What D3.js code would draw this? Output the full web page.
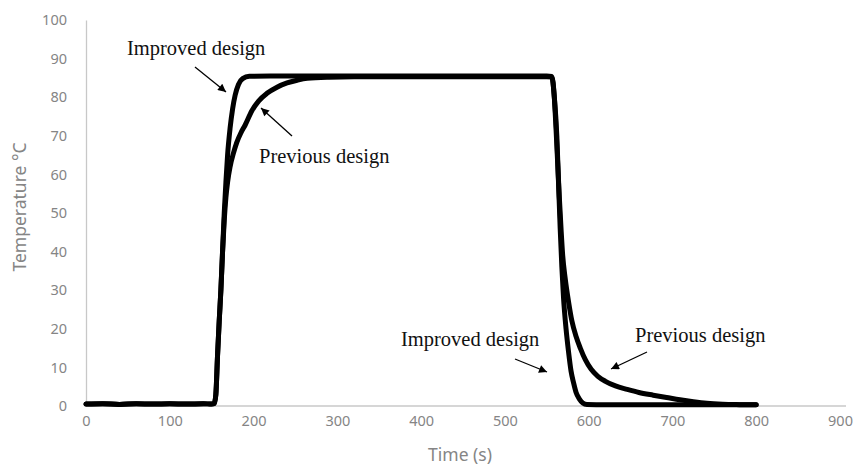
<!DOCTYPE html>
<html>
<head>
<meta charset="utf-8">
<script src="https://cdn.jsdelivr.net/npm/d3@7/dist/d3.min.js"></script>
<style>
  html, body { margin: 0; padding: 0; background: #fff; }
  svg { display: block; }
</style>
</head>
<body>
<svg id="chart" width="856" height="465"></svg>
<script>
// ---- Data ----
const xTicks = [0, 100, 200, 300, 400, 500, 600, 700, 800, 900];
const yTicks = [0, 10, 20, 30, 40, 50, 60, 70, 80, 90, 100];

const improvedTime = [0, 20, 40, 60, 80, 100, 120, 140, 150, 153, 155, 157, 159, 161, 163, 165, 167, 169, 172, 175, 178, 182, 187, 195, 220, 300, 400, 500, 550, 556, 559, 562, 564, 566, 568, 570, 573, 576, 579, 582, 585, 589, 593, 598, 620, 700, 800];
const improvedTemp = [0.5, 0.6, 0.4, 0.6, 0.5, 0.6, 0.5, 0.6, 0.5, 0.6, 3, 13, 22, 30, 40, 50, 58, 65, 72, 77, 80.5, 83.3, 84.8, 85.4, 85.5, 85.5, 85.5, 85.5, 85.5, 85.4, 80, 70, 58, 46, 36, 28, 20, 14, 9, 6, 3.5, 1.8, 0.8, 0.4, 0.3, 0.3, 0.3];

const previousTime = [0, 20, 40, 60, 80, 100, 120, 140, 150, 153, 155, 157, 159, 161, 163, 165, 167, 169, 172, 176, 180, 185, 190, 198, 206, 216, 228, 240, 252, 264, 290, 320, 400, 500, 550, 556, 559, 561, 563, 565, 567, 569, 572, 576, 580, 585, 590, 596, 603, 611, 620, 632, 646, 660, 677, 693, 709, 725, 741, 760, 780, 800];
const previousTemp = [0.5, 0.6, 0.4, 0.6, 0.5, 0.6, 0.5, 0.6, 0.5, 0.6, 3, 13, 22, 30, 40, 48, 54, 58, 62, 65.5, 68.3, 70.8, 72.8, 76.5, 79, 81, 82.6, 83.7, 84.4, 84.9, 85.2, 85.3, 85.3, 85.3, 85.3, 85.2, 80, 72, 63, 54, 46, 39, 33, 27, 22, 18, 15, 12, 9.5, 7.7, 6.4, 5.2, 4.3, 3.5, 2.8, 2.2, 1.6, 1.1, 0.7, 0.45, 0.35, 0.3];

const annotations = [
  { text: "Improved design", x: 127, y: 55, from: [195, 67], to: [226, 92] },
  { text: "Previous design", x: 259, y: 163, from: [292, 136], to: [261, 108] },
  { text: "Improved design", x: 401, y: 346, from: [515, 359], to: [547, 372] },
  { text: "Previous design", x: 635, y: 342, from: [647, 352], to: [611, 369] }
];

// ---- Chart ----
const svg = d3.select("#chart");
const x = d3.scaleLinear().domain([0, 900]).range([86, 840]);
const y = d3.scaleLinear().domain([0, 100]).range([406, 20]);

const axisColor = "#c8c8c8";
const labelColor = "#858585";
const sansFont = "'Noto Sans', 'DejaVu Sans', sans-serif";
const serifFont = "'Liberation Serif', 'Times New Roman', serif";

// X axis
const gx = svg.append("g").attr("transform", `translate(0,${y(0)})`)
  .call(d3.axisBottom(x).tickValues(xTicks).tickSize(0).tickPadding(10));
gx.select(".domain").attr("stroke", axisColor).attr("stroke-width", 1.3)
  .attr("d", `M${x(0)},0H${x(900) + 6}`);
gx.selectAll("text").attr("fill", labelColor).attr("font-family", sansFont)
  .attr("font-size", 14.5);

// Y axis
const gy = svg.append("g").attr("transform", `translate(${x(0)},0)`)
  .call(d3.axisLeft(y).tickValues(yTicks).tickSize(0).tickPadding(19));
gy.select(".domain").attr("stroke", axisColor).attr("stroke-width", 1.3);
gy.selectAll("text").attr("fill", labelColor).attr("font-family", sansFont)
  .attr("font-size", 14.5);

// Axis titles
svg.append("text").attr("x", 460).attr("y", 461).attr("text-anchor", "middle")
  .attr("fill", labelColor).attr("font-family", sansFont).attr("font-size", 17.5)
  .text("Time (s)");
svg.append("text").attr("transform", "translate(26,207) rotate(-90)")
  .attr("text-anchor", "middle")
  .attr("fill", labelColor).attr("font-family", sansFont).attr("font-size", 17.5)
  .text("Temperature °C");

// Lines
const line = d3.line().x(d => x(d[0])).y(d => y(d[1])).curve(d3.curveMonotoneX);
const improved = improvedTime.map((t, i) => [t, improvedTemp[i]]);
const previous = previousTime.map((t, i) => [t, previousTemp[i]]);

[previous, improved].forEach(data => {
  svg.append("path").datum(data).attr("d", line)
    .attr("fill", "none").attr("stroke", "#000").attr("stroke-width", 5)
    .attr("stroke-linejoin", "round").attr("stroke-linecap", "round");
});

// Annotations
const defs = svg.append("defs");
defs.append("marker").attr("id", "arrow").attr("viewBox", "0 0 10 10")
  .attr("refX", 10).attr("refY", 5).attr("markerWidth", 10).attr("markerHeight", 8)
  .attr("markerUnits", "userSpaceOnUse").attr("orient", "auto")
  .append("path").attr("d", "M0,0L10,5L0,10Z").attr("fill", "#000");

annotations.forEach(a => {
  svg.append("text").attr("x", a.x).attr("y", a.y)
    .attr("font-family", serifFont).attr("font-size", 20.5).attr("fill", "#111")
    .text(a.text);
  svg.append("line").attr("x1", a.from[0]).attr("y1", a.from[1])
    .attr("x2", a.to[0]).attr("y2", a.to[1])
    .attr("stroke", "#000").attr("stroke-width", 1.3)
    .attr("marker-end", "url(#arrow)");
});
</script>
</body>
</html>
